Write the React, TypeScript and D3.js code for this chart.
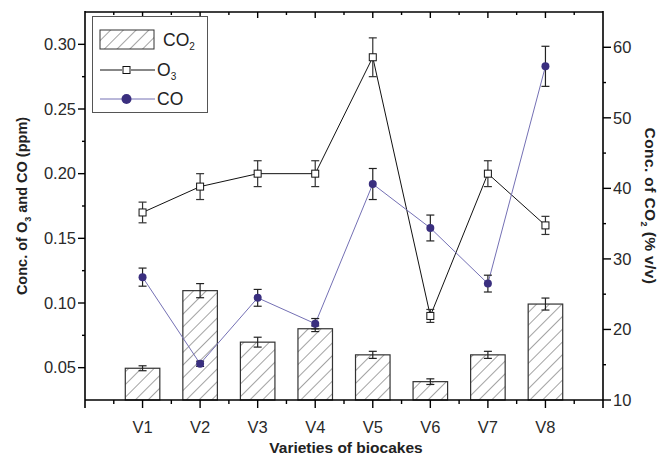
import React from "react";
import * as d3 from "d3";

const varieties = ["V1", "V2", "V3", "V4", "V5", "V6", "V7", "V8"];
const co2 = [14.5, 25.5, 18.2, 20.1, 16.4, 12.6, 16.4, 23.6];
const co2Err = [0.35, 1.0, 0.7, 0.4, 0.5, 0.4, 0.5, 0.85];
const o3 = [0.17, 0.19, 0.2, 0.2, 0.29, 0.09, 0.2, 0.16];
const o3Err = [0.008, 0.01, 0.01, 0.01, 0.015, 0.005, 0.01, 0.007];
const co = [0.12, 0.053, 0.104, 0.084, 0.192, 0.158, 0.115, 0.283];
const coErr = [0.007, 0.002, 0.0065, 0.004, 0.012, 0.01, 0.0065, 0.0155];

const leftTicks = [0.05, 0.1, 0.15, 0.2, 0.25, 0.3];
const leftMinor = [0.075, 0.125, 0.175, 0.225, 0.275];
const rightTicks = [10, 20, 30, 40, 50, 60];
const rightMinor = [15, 25, 35, 45, 55];

const W = 669, H = 456;
const left = 85, right = 603, top = 12, bottom = 400;

const font = "'Liberation Sans', Arial, sans-serif";
const coLine = "#7470b4";
const coDot = "#3a2f7f";

export default function App() {
  const x = d3.scaleLinear().domain([0, 9]).range([left, right]);
  const yL = d3.scaleLinear().domain([0.025, 0.325]).range([bottom, top]);
  const yR = d3.scaleLinear().domain([10, 65]).range([bottom, top]);
  const step = x(1) - x(0);
  const barW = step * 0.6;

  const idx = varieties.map((_, i) => i + 1);
  const minorX = d3.range(0.5, 9, 1);

  const o3Path = d3.line<number>().x((_, i) => x(i + 1)).y(d => yL(d))(o3) || "";
  const coPath = d3.line<number>().x((_, i) => x(i + 1)).y(d => yL(d))(co) || "";

  const errBar = (cx: number, y0: number, y1: number, key: string, color = "#222") => (
    <g key={key} stroke={color} strokeWidth={1.2}>
      <line x1={cx} x2={cx} y1={y0} y2={y1} />
      <line x1={cx - 4} x2={cx + 4} y1={y0} y2={y0} />
      <line x1={cx - 4} x2={cx + 4} y1={y1} y2={y1} />
    </g>
  );

  return (
    <svg width={W} height={H} style={{ position: "absolute", left: 0, top: 0, background: "#fff" }} fontFamily={font}>
      <defs>
        <pattern id="hatch" patternUnits="userSpaceOnUse" width={9} height={9} patternTransform="rotate(45)">
          <rect width={9} height={9} fill="#fff" />
          <line x1={0} y1={0} x2={0} y2={9} stroke="#333" strokeWidth={0.9} />
        </pattern>
      </defs>

      {/* bars: CO2 on right axis */}
      {co2.map((v, i) => (
        <rect key={"b" + i} x={x(i + 1) - barW / 2} y={yR(v)} width={barW} height={bottom - yR(v)}
          fill="url(#hatch)" stroke="#333" strokeWidth={1.2} />
      ))}
      {co2.map((v, i) => errBar(x(i + 1), yR(v + co2Err[i]), yR(v - co2Err[i]), "be" + i))}

      {/* O3 line */}
      <path d={o3Path} fill="none" stroke="#111" strokeWidth={1} />
      {o3.map((v, i) => errBar(x(i + 1), yL(v + o3Err[i]), yL(v - o3Err[i]), "oe" + i, "#333"))}
      {o3.map((v, i) => (
        <rect key={"o" + i} x={x(i + 1) - 3.5} y={yL(v) - 3.5} width={7} height={7} fill="#fff" stroke="#111" strokeWidth={1} />
      ))}

      {/* CO line */}
      <path d={coPath} fill="none" stroke={coLine} strokeWidth={1} />
      {co.map((v, i) => errBar(x(i + 1), yL(v + coErr[i]), yL(v - coErr[i]), "ce" + i))}
      {co.map((v, i) => (
        <circle key={"c" + i} cx={x(i + 1)} cy={yL(v)} r={4} fill={coDot} />
      ))}

      {/* frame */}
      <g stroke="#000" strokeWidth={1.6} fill="none">
        <line x1={left} x2={right} y1={top} y2={top} />
        <line x1={left} x2={right} y1={bottom} y2={bottom} />
        <line x1={left} x2={left} y1={top - 1} y2={bottom + 8} />
        <line x1={right} x2={right} y1={top - 1} y2={bottom + 8} />
      </g>

      {/* bottom & top ticks */}
      <g stroke="#000" strokeWidth={1.4}>
        {idx.map(v => <line key={"bt" + v} x1={x(v)} x2={x(v)} y1={bottom} y2={bottom + 8} />)}
        {minorX.map(v => <line key={"bm" + v} x1={x(v)} x2={x(v)} y1={bottom} y2={bottom + 4} />)}
        {idx.map(v => <line key={"tt" + v} x1={x(v)} x2={x(v)} y1={top} y2={top + 6} />)}
        {minorX.map(v => <line key={"tm" + v} x1={x(v)} x2={x(v)} y1={top} y2={top + 3} />)}
      </g>

      {/* left & right ticks */}
      <g stroke="#000" strokeWidth={1.4}>
        {leftTicks.map(v => <line key={"lt" + v} x1={left - 7} x2={left} y1={yL(v)} y2={yL(v)} />)}
        {leftMinor.map(v => <line key={"lm" + v} x1={left - 3} x2={left} y1={yL(v)} y2={yL(v)} />)}
        {rightTicks.map(v => <line key={"rt" + v} x1={right} x2={right + 8} y1={yR(v)} y2={yR(v)} />)}
        {rightMinor.map(v => <line key={"rm" + v} x1={right} x2={right + 3} y1={yR(v)} y2={yR(v)} />)}
      </g>

      <g fontSize={16.5} fill="#2a2a2a">
        {leftTicks.map(v => (
          <text key={"ll" + v} x={left - 9} y={yL(v)} dy="0.35em" textAnchor="end">{d3.format(".2f")(v)}</text>
        ))}
        {rightTicks.map(v => (
          <text key={"rl" + v} x={right + 10} y={yR(v)} dy="0.35em">{v}</text>
        ))}
        {varieties.map((name, i) => (
          <text key={"xl" + name} x={x(i + 1)} y={bottom + 33} textAnchor="middle">{name}</text>
        ))}
      </g>

      {/* axis titles */}
      <text x={346} y={453} textAnchor="middle" fontSize={15.5} fontWeight="bold" fill="#222">Varieties of biocakes</text>
      <text transform={`translate(27,${(top + bottom) / 2}) rotate(-90)`} textAnchor="middle" fontSize={14.5} fontWeight="bold" fill="#222">
        Conc. of O<tspan fontSize={9} dy={4}>3</tspan><tspan dy={-4}> and CO (ppm)</tspan>
      </text>
      <text transform={`translate(645,${(top + bottom) / 2}) rotate(90)`} textAnchor="middle" fontSize={15.5} fontWeight="bold" fill="#222" letterSpacing={0.4}>
        Conc. of CO<tspan fontSize={9} dy={4}>2</tspan><tspan dy={-4}>  (% v/v)</tspan>
      </text>

      {/* legend */}
      <g>
        <rect x={92.5} y={16.5} width={115} height={96} fill="#fff" stroke="#555" strokeWidth={1} />
        <rect x={100} y={30} width={54} height={19} fill="url(#hatch)" stroke="#333" strokeWidth={1} />
        <text x={163} y={46} fontSize={17.5} fill="#222">CO<tspan fontSize={10} dy={4}>2</tspan></text>

        <line x1={100} x2={122} y1={70} y2={70} stroke="#111" />
        <line x1={131} x2={155} y1={70} y2={70} stroke="#111" />
        <rect x={123} y={66.5} width={7} height={7} fill="#fff" stroke="#111" />
        <text x={157} y={76} fontSize={17.5} fill="#222">O<tspan fontSize={10} dy={4}>3</tspan></text>

        <line x1={100} x2={155} y1={99} y2={99} stroke={coLine} />
        <circle cx={126.5} cy={99} r={5} fill={coDot} />
        <text x={157} y={105} fontSize={17.5} fill="#222">CO</text>
      </g>
    </svg>
  );
}
